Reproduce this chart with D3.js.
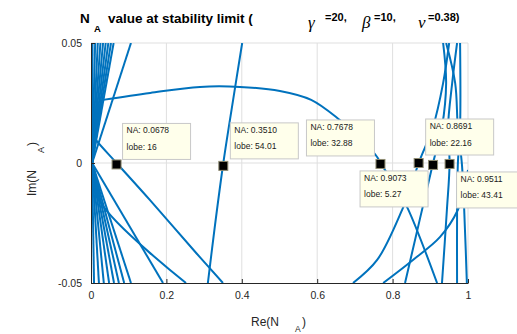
<!DOCTYPE html>
<html>
<head>
<meta charset="utf-8">
<script src="https://cdn.jsdelivr.net/npm/d3@7"></script>
<style>
  body { margin: 0; background: #fff; }
  svg { display: block; }
  text { font-family: "Liberation Sans", Arial, Helvetica, sans-serif; }
</style>
</head>
<body>
<svg id="chart" width="517" height="334"></svg>
<script>
// axis ticks
const xTicks = [0, 0.2, 0.4, 0.6, 0.8, 1];
const xTickLabels = ['0', '0.2', '0.4', '0.6', '0.8', '1'];
const yTicks = [-0.05, 0, 0.05];
const yTickLabels = ['-0.05', '0', '0.05'];

// loci of N_A, points as [Re, Im]
const mainArc = [[0.032, 0.0263], [0.157, 0.0292], [0.289, 0.0317], [0.395, 0.0317], [0.501, 0.0300],
  [0.584, 0.0263], [0.660, 0.0179], [0.714, 0.0104], [0.759, 0.0025], [0.7678, 0], [0.806, -0.0092],
  [0.841, -0.0192], [0.918, -0.05]];
const lobe54 = [[0.401, 0.05], [0.377, 0.0263], [0.351, 0], [0.329, -0.0258], [0.310, -0.05]];
const lobe16 = [[0.005, 0.0117], [0.013, 0.0096], [0.0678, 0], [0.156, -0.0154], [0.279, -0.0375], [0.350, -0.05]];
const kinked = [[0.003, -0.001], [0.027, -0.0167], [0.252, -0.05]];
const fanApex = [0.003, 0];
const fanTopRe = [0.004, 0.011, 0.018, 0.025, 0.032, 0.039, 0.046, 0.053, 0.060, 0.106];
const fanBottomRe = [0.008, 0.021, 0.034, 0.048, 0.061, 0.074, 0.088, 0.106, 0.191];
const lobe22 = [[0.950, 0.05], [0.934, 0.0333], [0.907, 0.015], [0.8691, 0], [0.846, -0.0113],
  [0.825, -0.0196], [0.759, -0.0404], [0.695, -0.05]];
const lobe5 = [[0.934, 0.05], [0.942, 0.0333], [0.931, 0.015], [0.9073, 0], [0.833, -0.05]];
const lobe43 = [[0.971, 0.05], [0.958, 0.0333], [0.947, 0.015], [0.9511, 0], [0.944, -0.0196], [0.931, -0.05]];
const rightA = [[0.942, 0.05], [0.966, 0.0333], [0.973, 0.015], [0.984, -0.0008], [0.992, -0.028], [0.997, -0.05]];
const rightB = [[0.979, 0.05], [0.979, 0.015], [0.973, -0.0008], [0.971, -0.0208], [0.971, -0.05]];
const rightSweep = [[0.775, -0.05], [0.854, -0.0404], [0.926, -0.0308], [0.973, -0.0196], [0.989, -0.0113], [1.0, -0.0029]];

// data tips
const tipNA = [0.0678, 0.3510, 0.7678, 0.8691, 0.9073, 0.9511];
const tipIm = [-0.0006, -0.0012, -0.0004, 0, -0.0008, -0.0004];
const tipLobe = ['16', '54.01', '32.88', '22.16', '5.27', '43.41'];
// box placement relative to the marker (px)
const tipOffset = [[6, -41], [7, -43], [-74, -44], [7, -44], [-73, 6], [7, 8]];

const curves = [mainArc, lobe54, lobe16, kinked, lobe22, lobe5, lobe43, rightA, rightB, rightSweep]
  .concat(fanTopRe.map(r => [[r, 0.05], fanApex]))
  .concat(fanBottomRe.map(r => [fanApex, [r, -0.05]]));

const margin = { top: 43, right: 49, bottom: 51, left: 91 };
const width = 517, height = 334;
const plotW = width - margin.left - margin.right;
const plotH = height - margin.top - margin.bottom;

const svg = d3.select('#chart');
const x = d3.scaleLinear().domain([0, 1]).range([margin.left, margin.left + plotW]);
const y = d3.scaleLinear().domain([-0.05, 0.05]).range([margin.top + plotH, margin.top]);

svg.append('defs').append('clipPath').attr('id', 'plot-clip')
  .append('rect')
    .attr('x', margin.left).attr('y', margin.top)
    .attr('width', plotW).attr('height', plotH);

// grid
const grid = svg.append('g').attr('class', 'grid');
grid.selectAll('.vgrid')
  .data(xTicks.slice(1))
  .join('line')
    .attr('x1', d => x(d)).attr('x2', d => x(d))
    .attr('y1', y(-0.05)).attr('y2', y(0.05))
    .attr('stroke', '#dfdfdf').attr('stroke-width', 1);
grid.selectAll('.hgrid')
  .data(yTicks.slice(1))
  .join('line')
    .attr('x1', x(0)).attr('x2', x(1))
    .attr('y1', d => y(d)).attr('y2', d => y(d))
    .attr('stroke', '#dfdfdf').attr('stroke-width', 1);

// loci
const line = d3.line().x(d => x(d[0])).y(d => y(d[1])).curve(d3.curveCatmullRom.alpha(0.5));
svg.append('g')
    .attr('clip-path', 'url(#plot-clip)')
  .selectAll('path')
  .data(curves)
  .join('path')
    .attr('d', line)
    .attr('fill', 'none')
    .attr('stroke', '#0072BD')
    .attr('stroke-width', 2);

// axes
const xAxis = d3.axisBottom(x).tickValues(xTicks).tickFormat((d, i) => xTickLabels[i]).tickSizeInner(-4).tickSizeOuter(0).tickPadding(9);
const yAxis = d3.axisLeft(y).tickValues(yTicks).tickFormat((d, i) => yTickLabels[i]).tickSizeInner(-4).tickSizeOuter(0).tickPadding(9);

const gx = svg.append('g').attr('transform', `translate(0, ${margin.top + plotH})`).call(xAxis);
const gy = svg.append('g').attr('transform', `translate(${margin.left}, 0)`).call(yAxis);
[gx, gy].forEach(g => {
  g.select('.domain').attr('stroke', '#262626');
  g.selectAll('.tick line').attr('stroke', '#262626');
  g.selectAll('.tick text')
    .attr('fill', '#262626')
    .style('font-size', '10.5px')
    .style('font-family', '"Liberation Sans", Arial, sans-serif');
});

// data tips
const tips = tipNA.map((na, i) => ({ na, im: tipIm[i], lobe: tipLobe[i], off: tipOffset[i] }));
const tipG = svg.append('g').attr('class', 'tips');
tipG.selectAll('rect.marker')
  .data(tips)
  .join('rect')
    .attr('class', 'marker')
    .attr('x', d => x(d.na) - 4.5).attr('y', d => y(d.im) - 4.5)
    .attr('width', 9).attr('height', 9)
    .attr('fill', '#000').attr('stroke', '#8f8c72').attr('stroke-width', 1);

const boxes = tipG.selectAll('g.box')
  .data(tips)
  .join('g')
    .attr('class', 'box')
    .attr('transform', d => `translate(${x(d.na) + d.off[0]}, ${y(d.im) + d.off[1]})`);
boxes.append('rect')
    .attr('width', 68).attr('height', 36)
    .attr('fill', '#ffffeb').attr('stroke', '#c8c8c8').attr('stroke-width', 1);
boxes.append('text')
    .attr('x', 4).attr('y', 10)
    .style('font-size', '8.5px').attr('fill', '#1a1a1a')
    .text(d => `NA: ${d.na.toFixed(4)}`);
boxes.append('text')
    .attr('x', 4).attr('y', 26.5)
    .style('font-size', '8.5px').attr('fill', '#1a1a1a')
    .text(d => `lobe: ${d.lobe}`);

// title
const title = svg.append('g').attr('class', 'title').attr('fill', '#000');
const tMain = title.append('text').attr('x', 80).attr('y', 23).style('font-weight', 'bold').style('font-size', '13.5px');
tMain.append('tspan').text('N');
tMain.append('tspan').attr('x', 94).attr('y', 32).style('font-size', '9.5px').text('A');
tMain.append('tspan').attr('x', 108).attr('y', 23).text('value at stability limit (');
const greek = [['γ', 308, '=20,', 325], ['β', 362, '=10,', 374], ['ν', 418, '=0.38)', 428]];
greek.forEach(([g, gx0, rest, rx]) => {
  title.append('text').attr('x', gx0).attr('y', 28)
    .style('font-family', '"Liberation Serif", "Times New Roman", serif')
    .style('font-style', 'italic').style('font-size', '17px').text(g);
  title.append('text').attr('x', rx).attr('y', 21)
    .style('font-weight', 'bold').style('font-size', '11px').text(rest);
});

// axis labels
const xl = svg.append('text').attr('x', 251).attr('y', 326).attr('fill', '#262626').style('font-size', '12px');
xl.append('tspan').text('Re(N');
xl.append('tspan').attr('x', 295).attr('y', 332).style('font-size', '8.5px').text('A');
xl.append('tspan').attr('x', 302).attr('y', 326).text(')');

const yl = svg.append('text').attr('transform', 'translate(36, 196) rotate(-90)').attr('fill', '#262626').style('font-size', '12px');
yl.append('tspan').text('Im(N');
yl.append('tspan').attr('x', 43).attr('y', 8).style('font-size', '9px').text('A');
yl.append('tspan').attr('x', 50).attr('y', 0).text(')');
</script>
</body>
</html>
